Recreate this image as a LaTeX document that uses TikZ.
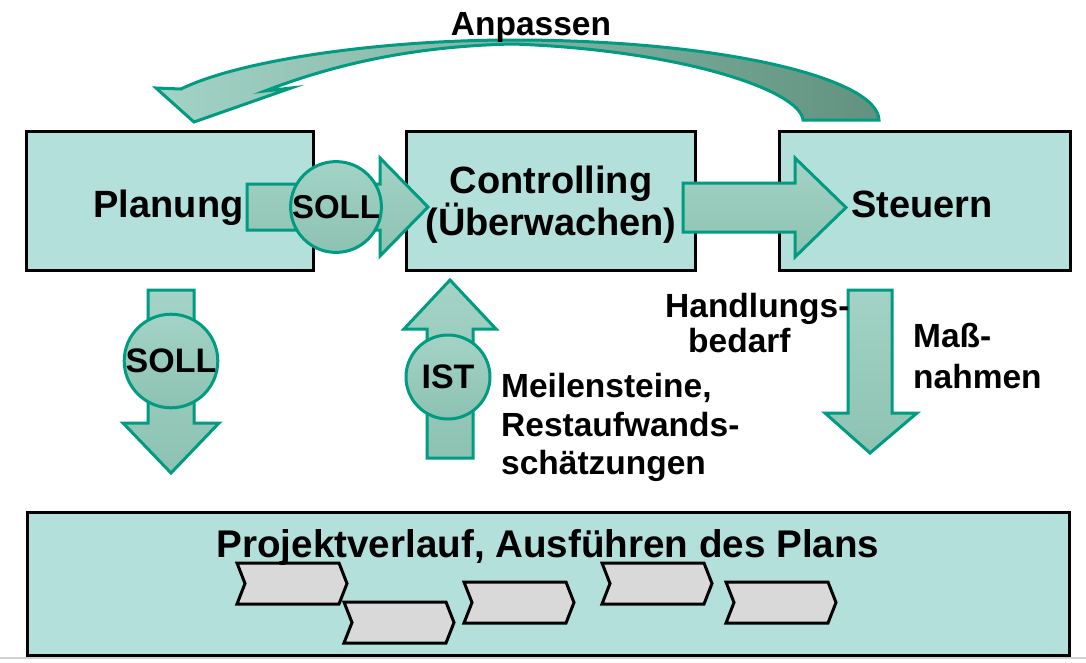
\documentclass[tikz,border=0pt]{standalone}
\usepackage{fontspec}
\setmainfont{Liberation Sans}
\definecolor{boxfill}{HTML}{B3E0DB}
\definecolor{arrline}{HTML}{009B80}
\definecolor{arrfill}{HTML}{8DC2B2}
\definecolor{arrlight}{HTML}{A3D3C6}
\definecolor{arrdark}{HTML}{62927F}
\definecolor{chevfill}{HTML}{D9D9D9}
\begin{document}
\begin{tikzpicture}[x=1pt,y=-1pt,
  box/.style={draw=black, line width=3pt, fill=boxfill, inner sep=0pt},
  blk/.style={draw=arrline, line width=3pt, line join=miter, top color=arrlight, bottom color=arrfill},
  circ/.style={circle, draw=arrline, line width=3pt, top color=arrlight, bottom color=arrfill, inner sep=0pt, font=\fontsize{33}{38}\selectfont\bfseries},
  chev/.style={draw=black, line width=3pt, fill=chevfill, line join=miter},
  tbig/.style={font=\fontsize{38}{42}\selectfont\bfseries, inner sep=0pt},
  tmid/.style={font=\fontsize{33.5}{38}\selectfont\bfseries, inner sep=0pt}]
\useasboundingbox (0,0) rectangle (1086,662);
\fill[white] (0,0) rectangle (1086,662);
\fill[black!18] (0,657) rectangle (1086,659);

% boxes
\node[box, minimum width=287pt, minimum height=139pt] (plan) at (169.5,200.5) {};
\node[box, minimum width=289pt, minimum height=139pt] (ctrl) at (550.5,200.5) {};
\node[box, minimum width=291pt, minimum height=139pt] (steu) at (924.5,200.5) {};
\node[box, minimum width=1042pt, minimum height=143pt] (proj) at (548,583.5) {};

% curved arrow "Anpassen"
\draw[draw=arrline, line width=3pt, line join=miter, left color=arrlight, right color=arrdark]
  (879,120) .. controls (878,78) and (720,40) .. (513,40)
  .. controls (380,40) and (240,60) .. (181,89)
  -- (156,88) -- (194,122) -- (291,88) -- (265,91)
  .. controls (340,62) and (420,46) .. (513,44)
  .. controls (680,50) and (800,90) .. (803,120) -- cycle;

% horizontal SOLL arrow (Planung -> Controlling)
\draw[blk] (247,184) -- (380,184) -- (380,158) -- (428,207) -- (380,256) -- (380,230) -- (247,230) -- cycle;
% Controlling -> Steuern
\draw[blk] (683,183) -- (795,183) -- (795,158) -- (846,207.5) -- (795,257) -- (795,232) -- (683,232) -- cycle;
% Planung down (SOLL)
\draw[blk] (148,290) -- (194,290) -- (194,423) -- (219,423) -- (171,473) -- (123,423) -- (148,423) -- cycle;
% IST up
\draw[blk] (427,458) -- (427,329) -- (404,329) -- (450,280) -- (496,329) -- (473,329) -- (473,458) -- cycle;
% Massnahmen down
\draw[blk] (848,290) -- (892,290) -- (892,413) -- (917,413) -- (870,453) -- (825,413) -- (848,413) -- cycle;

% circles
\node[circ, minimum size=88pt] (soll1) at (336,207) {SOLL};
\node[circ, minimum size=88pt, font=\fontsize{34}{38}\selectfont\bfseries] (soll2) at (171,361) {SOLL};
\node[circ, minimum size=84pt, font=\fontsize{34}{38}\selectfont\bfseries] (ist) at (448,377) {IST};

% chevrons
\foreach \cx/\cy [count=\i] in {237/563, 344/602, 464/582, 602/563, 726/582} {
  \draw[chev] (\cx,\cy) -- ++(102,0) -- ++(8,20.5) -- ++(-8,20.5) -- ++(-102,0) -- ++(8,-20.5) -- cycle;
}

% texts
\node[tmid, anchor=base] (anp) at (531,35) {Anpassen};
\node[tbig, anchor=base] (tplan) at (168.5,217) {Planung};
\node[tbig, anchor=base] (tctrl1) at (551,193) {Controlling};
\node[tbig, anchor=base] (tctrl2) at (551,235) {(Überwachen)};
\node[tbig, anchor=base] (tsteu) at (922,217) {Steuern};
\node[tmid, anchor=base west] (th1) at (665,317) {Handlungs-};
\node[tmid, anchor=base west] (th2) at (688,352) {bedarf};
\node[tmid, anchor=base west] (tm1) at (913,347) {Maß-};
\node[tmid, anchor=base west] (tm2) at (913,388) {nahmen};
\node[tmid, anchor=base west] (ti1) at (501,397) {Meilensteine,};
\node[tmid, anchor=base west] (ti2) at (501,436) {Restaufwands-};
\node[tmid, anchor=base west] (ti3) at (501,474) {schätzungen};
\node[tbig, font=\fontsize{38.6}{42}\selectfont\bfseries, anchor=base] (tproj) at (548,557) {Projektverlauf, Ausführen des Plans};
\end{tikzpicture}
\end{document}
